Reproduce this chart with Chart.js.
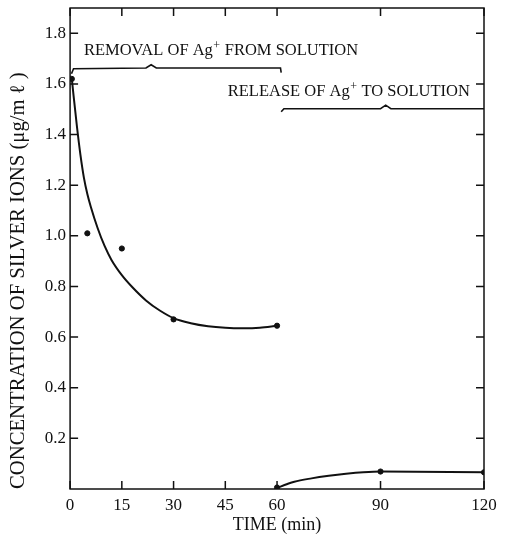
<!DOCTYPE html>
<html>
<head>
<meta charset="utf-8">
<script src="https://cdn.jsdelivr.net/npm/chart.js@4"></script>
<style>
html, body { margin: 0; padding: 0; background: #fff; }
#wrap { width: 506px; height: 543px; }
</style>
</head>
<body>
<div id="wrap"><canvas id="chart"></canvas></div>
<script>
// axis ticks
var xTicks = [0, 15, 30, 45, 60, 90, 120];
var yTicks = [0.2, 0.4, 0.6, 0.8, 1.0, 1.2, 1.4, 1.6, 1.8];

// measured silver concentration while Ag+ is removed (min, ug/ml)
var removalTime = [0.5, 5, 15, 30, 60];
var removalConc = [1.62, 1.01, 0.95, 0.67, 0.645];
// hand drawn curve through them
var removalCurveTime = [0.5, 1, 2, 3, 4, 5, 6, 8, 10, 12, 15, 18, 22, 26, 30, 35, 40, 45, 50, 55, 60];
var removalCurveConc = [1.62, 1.555, 1.43, 1.32, 1.23, 1.165, 1.115, 1.03, 0.96, 0.905, 0.845, 0.798, 0.745, 0.705, 0.675, 0.655, 0.643, 0.637, 0.635, 0.637, 0.645];

// release phase
var releaseTime = [60, 90, 120];
var releaseConc = [0.006, 0.069, 0.066];
var releaseCurveTime = [60, 63, 65, 70, 75, 80, 85, 90, 120];
var releaseCurveConc = [0.004, 0.02, 0.029, 0.042, 0.052, 0.06, 0.066, 0.069, 0.066];

// braces marking each phase
var removalBraceTime = [0.4, 1, 22, 23.5, 25, 61, 61.2];
var removalBraceConc = [1.64, 1.66, 1.663, 1.676, 1.663, 1.663, 1.645];
var releaseBraceTime = [61.2, 62, 90, 91.5, 93, 120.6];
var releaseBraceConc = [1.49, 1.502, 1.502, 1.516, 1.502, 1.502];

// phase labels: [time, conc, text before superscript, text after]
var phaseLabels = [
  [4, 1.73, 'REMOVAL OF Ag', ' FROM SOLUTION'],
  [45.7, 1.57, 'RELEASE OF Ag', ' TO SOLUTION']
];

var ink = '#111';
var serif = '"Liberation Serif", "Times New Roman", serif';

function pts(xs, ys) {
  return xs.map(function (x, i) { return {x: x, y: ys[i]}; });
}

var frameTicks = {
  id: 'frameTicks',
  afterDatasetsDraw: function (chart) {
    var ctx = chart.ctx, a = chart.chartArea;
    var xs = chart.scales.x, ys = chart.scales.y;
    ctx.save();
    ctx.strokeStyle = ink;
    ctx.lineWidth = 1.5;
    ctx.strokeRect(a.left, a.top, a.right - a.left, a.bottom - a.top);
    ctx.beginPath();
    xTicks.forEach(function (v) {
      var px = xs.getPixelForValue(v);
      ctx.moveTo(px, a.bottom); ctx.lineTo(px, a.bottom - 8);
      ctx.moveTo(px, a.top); ctx.lineTo(px, a.top + 8);
    });
    yTicks.forEach(function (v) {
      var py = ys.getPixelForValue(v);
      ctx.moveTo(a.left, py); ctx.lineTo(a.left + 8, py);
      ctx.moveTo(a.right, py); ctx.lineTo(a.right - 8, py);
    });
    ctx.stroke();

    // phase labels with superscript +
    ctx.fillStyle = ink;
    ctx.textBaseline = 'middle';
    phaseLabels.forEach(function (l) {
      var px = xs.getPixelForValue(l[0]), py = ys.getPixelForValue(l[1]);
      ctx.font = '16.5px ' + serif;
      ctx.fillText(l[2], px, py);
      var w = ctx.measureText(l[2]).width;
      ctx.font = '12px ' + serif;
      ctx.fillText('+', px + w + 0.5, py - 5);
      var w2 = ctx.measureText('+').width;
      ctx.font = '16.5px ' + serif;
      ctx.fillText(l[3], px + w + w2 + 1, py);
    });
    ctx.restore();
  }
};

var lineStyle = {
  borderColor: ink, backgroundColor: ink, borderWidth: 2,
  pointRadius: 0, showLine: true, fill: false,
  tension: 0.4, cubicInterpolationMode: 'monotone'
};
var braceStyle = {
  borderColor: ink, borderWidth: 1.6, pointRadius: 0,
  showLine: true, fill: false, tension: 0
};
var dotStyle = {
  borderColor: ink, backgroundColor: ink, pointRadius: 2.6,
  showLine: false
};

new Chart(document.getElementById('chart'), {
  type: 'scatter',
  data: {
    datasets: [
      Object.assign({label: 'removal curve', data: pts(removalCurveTime, removalCurveConc)}, lineStyle),
      Object.assign({label: 'removal', data: pts(removalTime, removalConc)}, dotStyle),
      Object.assign({label: 'release curve', data: pts(releaseCurveTime, releaseCurveConc)}, lineStyle),
      Object.assign({label: 'release', data: pts(releaseTime, releaseConc)}, dotStyle),
      Object.assign({label: 'removal brace', data: pts(removalBraceTime, removalBraceConc)}, braceStyle),
      Object.assign({label: 'release brace', data: pts(releaseBraceTime, releaseBraceConc)}, braceStyle)
    ]
  },
  options: {
    responsive: true,
    maintainAspectRatio: false,
    animation: false,
    layout: { padding: { left: 6, right: 22, top: 8, bottom: 0 } },
    plugins: { legend: { display: false }, tooltip: { enabled: false } },
    scales: {
      x: {
        type: 'linear', min: 0, max: 120,
        afterBuildTicks: function (s) { s.ticks = xTicks.map(function (v) { return {value: v}; }); },
        grid: { display: false, drawTicks: false },
        border: { display: false },
        ticks: { color: ink, padding: 6, maxRotation: 0, font: { family: serif, size: 17 } },
        title: { display: true, text: 'TIME (min)', color: ink, padding: { top: -7, bottom: 7 }, font: { family: serif, size: 18 } }
      },
      y: {
        type: 'linear', min: 0, max: 1.9,
        afterBuildTicks: function (s) { s.ticks = yTicks.map(function (v) { return {value: v}; }); },
        grid: { display: false, drawTicks: false },
        border: { display: false },
        ticks: { color: ink, padding: 4, font: { family: serif, size: 17, lineHeight: 0.4 },
          callback: function (v) { return v.toFixed(1); } },
        title: { display: true, align: 'start', text: 'CONCENTRATION OF SILVER IONS (\u03bcg/m \u2113 )', color: ink,
          padding: { top: 0, bottom: 10 }, font: { family: serif, size: 20.7 } }
      }
    }
  },
  plugins: [frameTicks]
});
</script>
</body>
</html>
